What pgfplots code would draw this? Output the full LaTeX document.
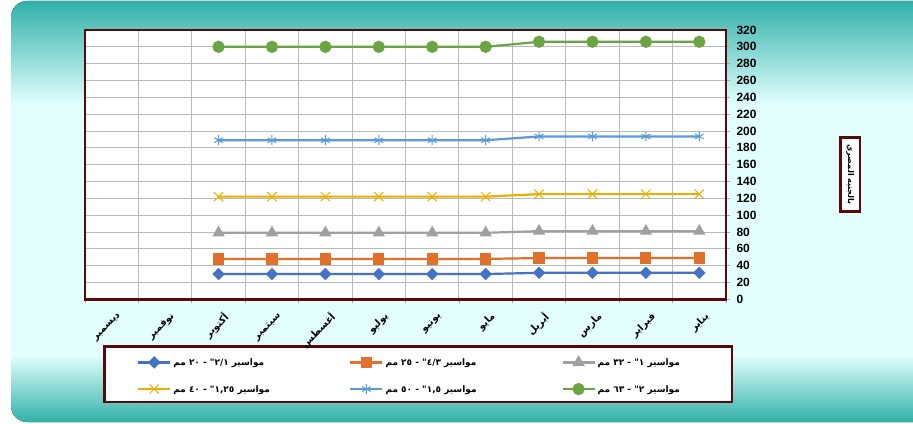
\documentclass[border=0pt]{standalone}
\usepackage{pgfplots}
\pgfplotsset{compat=1.18}
\usepackage{fontspec}
\TeXXeTstate=1
\setmainfont{Liberation Sans}
\newfontfamily\arabicfont[Script=Arabic]{DejaVu Sans}
\definecolor{bgteal}{HTML}{2FAFA8}
\definecolor{bglight}{HTML}{E2FFFE}
\definecolor{framec}{HTML}{5A0808}
\definecolor{c1}{HTML}{4472C4}
\definecolor{c2}{HTML}{E0702B}
\definecolor{c3}{HTML}{A0A0A0}
\definecolor{c4}{HTML}{EBAF00}
\definecolor{c5}{HTML}{5B9BD5}
\definecolor{c6}{HTML}{6CA443}
\newcommand{\ar}{\arabicfont\bfseries}
\newcommand{\leg}[1]{\makebox[176bp][l]{\beginR #1\endR}}
\begin{document}
\begin{tikzpicture}[x=1bp,y=1bp]
\useasboundingbox (0,0) rectangle (913,423);
\begin{scope}
\path[clip] (913,1) -- (27,1) arc[start angle=270,end angle=180,radius=16] -- (11,406) arc[start angle=180,end angle=90,radius=16] -- (913,422) -- cycle;
\fill[top color=bgteal, bottom color=bglight] (0,318) rectangle (913,423);
\fill[bglight] (0,67.5) rectangle (913,318.5);
\fill[top color=bglight, bottom color=bgteal] (0,0) rectangle (913,68);
\end{scope}
% legend box
\draw[framec, line width=2.8bp, fill=white] (104.5,21) rectangle (732,76.5);
% y title box
\node[draw=framec, line width=2.5bp, fill=white, rotate=-90, minimum width=74bp, minimum height=19.5bp, inner sep=1bp, font=\ar\fontsize{8}{8}\selectfont] at (850.2,248.3) {\beginR بالجنيه المصري\endR};
\begin{axis}[
  at={(85bp,123.7bp)}, anchor=south west,
  scale only axis, width=641bp, height=269.3bp,
  x dir=reverse,
  xmin=0.5, xmax=12.5, ymin=0, ymax=320,
  xtick={0.5,1.5,...,12.5}, xticklabels={},
  extra x ticks={1,...,12},
  extra x tick labels={يناير,فبراير,مارس,أبريل,مايو,يونيو,يوليو,أغسطس,سبتمبر,أكتوبر,نوفمبر,ديسمبر},
  extra x tick style={grid=none, major tick length=0pt, tick label style={rotate=45, anchor=east, xshift=-2bp, yshift=-17bp, font=\ar\fontsize{9.8}{9.8}\selectfont}},
  ytick={0,20,...,320},
  ytick pos=right, yticklabel pos=right,
  xtick pos=bottom,
  tick align=outside, major tick length=4bp,
  tick style={gray!70, line width=0.8bp},
  xmajorgrids, ymajorgrids,
  grid style={gray!55, line width=0.9bp},
  axis line style={draw=none},
  axis background/.style={fill=white},
  yticklabel style={font=\bfseries\fontsize{12}{12}\selectfont, xshift=3bp},
  /pgf/number format/assume math mode=true,
  clip=false,
  legend columns=3,
  legend cell align=left,
  legend style={at={(0.081,-0.215)}, anchor=north west, draw=none, fill=none, inner sep=0pt,
     nodes={inner sep=0pt, text depth=0pt}, row sep=17bp,
     font=\ar\fontsize{9}{9}\selectfont,
     /tikz/every odd column/.append style={column sep=2bp},
     /tikz/every even column/.append style={column sep=0bp}},
  legend image code/.code={\draw[mark repeat=2, mark phase=2, #1] plot coordinates {(0bp,0bp) (16bp,0bp) (32bp,0bp)};},
  every axis plot/.append style={line width=2.2bp},
]
\addplot[c1, mark=square*, mark size=3.3bp, mark options={rotate=45, solid}] coordinates {(1,31.5)(2,31.5)(3,31.5)(4,31.5)(5,30)(6,30)(7,30)(8,30)(9,30)(10,30)};
\addlegendentry{\leg{مواسير ٢/١" - ٢٠ مم}}
\addplot[c2, mark=square*, mark size=4.5bp, mark options={solid}] coordinates {(1,49)(2,49)(3,49)(4,49)(5,48)(6,48)(7,48)(8,48)(9,48)(10,48)};
\addlegendentry{\leg{مواسير ٤/٣" - ٢٥ مم}}
\addplot[c3, mark=triangle*, mark size=5bp, mark options={solid}] coordinates {(1,81)(2,81)(3,81)(4,81)(5,79)(6,79)(7,79)(8,79)(9,79)(10,79)};
\addlegendentry{\leg{مواسير ١" - ٣٢ مم}}
\addplot[c4, mark=x, mark size=6.5bp, mark options={solid, line width=1bp}] coordinates {(1,125)(2,125)(3,125)(4,125)(5,122)(6,122)(7,122)(8,122)(9,122)(10,122)};
\addlegendentry{\leg{مواسير ١,٢٥" - ٤٠ مم}}
\addplot[c5, mark=asterisk, mark size=5bp, mark options={solid, line width=1bp}] coordinates {(1,193.5)(2,193.5)(3,193.5)(4,193.5)(5,189)(6,189)(7,189)(8,189)(9,189)(10,189)};
\addlegendentry{\leg{مواسير ١,٥" - ٥٠ مم}}
\addplot[c6, mark=*, mark size=5bp, mark options={solid}] coordinates {(1,306)(2,306)(3,306)(4,306)(5,300)(6,300)(7,300)(8,300)(9,300)(10,300)};
\addlegendentry{\leg{مواسير ٢" - ٦٣ مم}}
\draw[framec, line width=2.8bp] (rel axis cs:0,0) rectangle (rel axis cs:1,1);
\end{axis}
\end{tikzpicture}
\end{document}
